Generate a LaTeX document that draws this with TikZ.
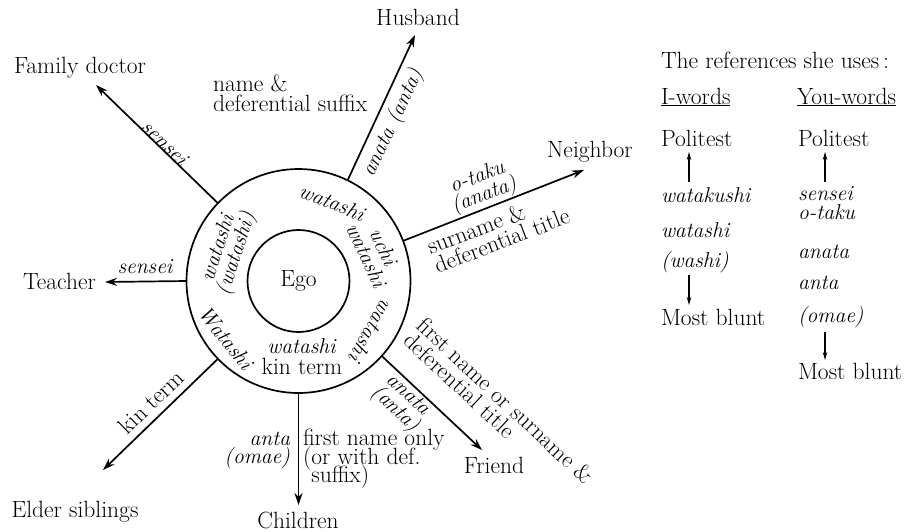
\documentclass[tikz,border=0pt]{standalone}
\usetikzlibrary{arrows.meta}
\setlength{\lineskiplimit}{-100pt}
\begin{document}
\begin{tikzpicture}[x=1pt,y=-1pt,
  every node/.style={inner sep=0pt, outer sep=0pt},
  lbl/.style={font=\fontsize{23.5}{20}\selectfont},
  ilbl/.style={font=\fontsize{21.5}{19}\selectfont\itshape},
  spoke/.style={line width=1.7pt, -{Stealth[length=12pt,width=8pt]}},
  ring/.style={circle, draw, line width=1.7pt},
  legarrow/.style={line width=1.2pt, -{Stealth[length=8pt,width=4.5pt]}}
]
\useasboundingbox (0,0) rectangle (907,531);

% circles
\node[ring, minimum size=224pt] (outer) at (298.5,281) {};
\node[ring, minimum size=102pt, lbl] (ego) at (298.5,281) {Ego};

% arrow tips
\coordinate (tFD) at (96,85);
\coordinate (tH) at (415,35);
\coordinate (tN) at (584,170);
\coordinate (tT) at (105,282);
\coordinate (tE) at (103,470);
\coordinate (tC) at (298.5,505);
\coordinate (tF) at (482,450);

\draw[spoke] (outer.136) -- (tFD);
\draw[spoke] (outer.64.7) -- (tH);
\draw[spoke] (outer.21.2) -- (tN);
\draw[spoke] (outer.180) -- (tT);
\draw[spoke] (outer.224) -- (tE);
\draw[spoke] (outer.270) -- (tC);
\draw[spoke] (outer.-42.6) -- (tF);

% destinations
\node[lbl] (fd) at (80,68) {Family doctor};
\node[lbl, align=left, anchor=west] (nds) at (213,93) {name \&\\deferential suffix};
\node[lbl] (hus) at (418,17) {Husband};
\node[lbl] (nei) at (590,152) {Neighbor};
\node[lbl, anchor=east] (tea) at (96,281) {Teacher};
\node[lbl] (eld) at (75,512) {Elder siblings};
\node[lbl] (chi) at (298,520) {Children};
\node[lbl] (fri) at (494,465) {Friend};

% spoke labels
\node[ilbl, rotate=-44] (s1) at (165,143) {sensei};
\node[ilbl, rotate=64.7] (s2) at (393,123) {anata (anta)};
\node[ilbl, rotate=21, align=center] (s3) at (481,187) {o-taku\\(anata)};
\node[lbl, rotate=21, align=left] (s4) at (498,231) {surname \&\\deferential title};
\node[ilbl] (s5) at (145,267) {sensei};
\node[lbl, rotate=44] (s6) at (151,402) {kin term};
\node[ilbl, align=right, anchor=east, font=\fontsize{21.5}{18}\selectfont\itshape] (s7) at (290,450) {anta\\(omae)};
\node[lbl, align=left, anchor=west, font=\fontsize{23.5}{18.5}\selectfont] (s8) at (303,459) {first name only\\(or with def.\\\phantom{(}suffix)};
\node[ilbl, rotate=-42.6, align=center] (s9) at (401,403) {anata\\(anta)};
\node[lbl, rotate=-43, align=left] (s10) at (499,408) {first name or surname \&\\deferential title};

% inner ring labels
\node[ilbl, rotate=-22] (i1) at (332,202) {watashi};
\node[ilbl, rotate=-65, align=center] (i2) at (375,251) {uchi\\watashi};
\node[ilbl, rotate=-120] (i3) at (372,331) {watashi};
\node[ilbl, rotate=-51] (i4) at (226,338) {Watashi};
\node[ilbl, rotate=72, align=center] (i5) at (228,251) {watashi\\(watashi)};
\node[lbl, align=center, font=\fontsize{23.5}{21}\selectfont] (i6) at (302,357) {\fontsize{21.5}{21}\selectfont\textit{watashi}\\kin term};

% legend
\node[lbl, anchor=west] (lt) at (661,60) {The references she uses\,:};
\node[lbl, anchor=west] (lI) at (661,97) {\underline{I-words}};
\node[lbl, anchor=west] (lY) at (797,97) {\underline{You-words}};
\node[lbl, anchor=west] (lp1) at (661,138) {Politest};
\node[lbl, anchor=west] (lp2) at (798,138) {Politest};
\node[ilbl, anchor=west] (lw1) at (661,195) {watakushi};
\node[ilbl, anchor=west] (lw2) at (661,230) {watashi};
\node[ilbl, anchor=west] (lw3) at (661,262) {(washi)};
\node[lbl, anchor=west] (lb1) at (661,317) {Most blunt};
\node[ilbl, anchor=west] (ly1) at (798,194) {sensei};
\node[ilbl, anchor=west] (ly2) at (798,212) {o-taku};
\node[ilbl, anchor=west] (ly3) at (798,252) {anata};
\node[ilbl, anchor=west] (ly4) at (798,283) {anta};
\node[ilbl, anchor=west] (ly5) at (798,317) {(omae)};
\node[lbl, anchor=west] (lb2) at (798,371) {Most blunt};

\coordinate (a1s) at (689,182); \coordinate (a1e) at (689,152);
\coordinate (a2s) at (689,275); \coordinate (a2e) at (689,305);
\coordinate (a3s) at (825,182); \coordinate (a3e) at (825,152);
\coordinate (a4s) at (825,332); \coordinate (a4e) at (825,360);
\draw[legarrow] (a1s) -- (a1e);
\draw[legarrow] (a2s) -- (a2e);
\draw[legarrow] (a3s) -- (a3e);
\draw[legarrow] (a4s) -- (a4e);
\end{tikzpicture}
\end{document}
